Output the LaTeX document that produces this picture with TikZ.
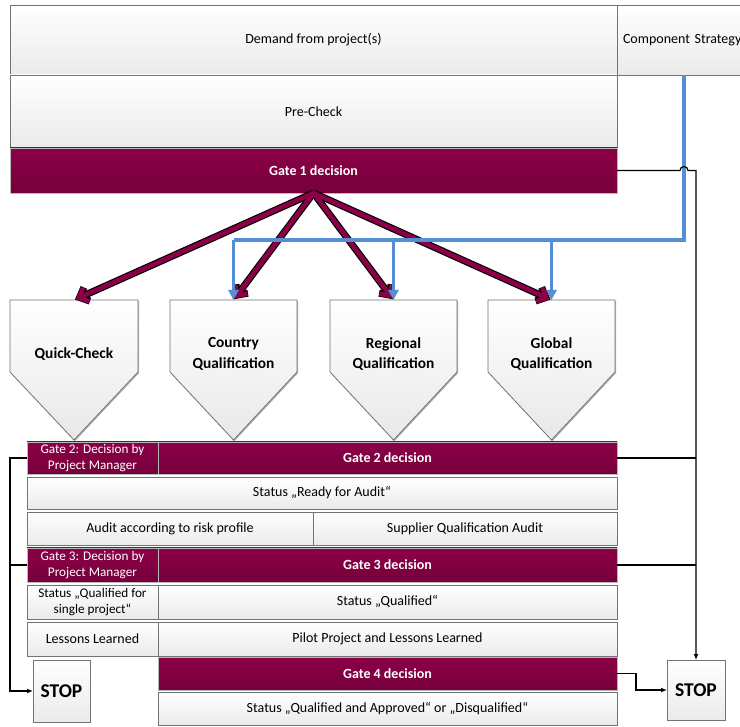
\documentclass[tikz,border=0pt]{standalone}
\usepackage{fontspec}
\setmainfont{Carlito}
\usetikzlibrary{arrows.meta,shadows,calc}
\definecolor{gateredtop}{RGB}{140,0,72}
\definecolor{gatereddark}{RGB}{118,0,58}
\definecolor{flowblue}{RGB}{85,142,213}
\definecolor{boxline}{RGB}{115,115,115}
\begin{document}
\begin{tikzpicture}[x=1pt,y=-1pt,
  shadowed/.style={drop shadow={shadow xshift=1pt,shadow yshift=-1.2pt,opacity=0.3,fill=black}},
  lightbox/.style={shadowed,draw=boxline, line width=0.8pt, top color=white, bottom color=gray!16,
     inner sep=1pt, outer sep=0pt, align=center, font=\fontsize{14}{16}\selectfont, anchor=north west},
  gatebox/.style={lightbox, draw=gray!55, top color=gateredtop, bottom color=gatereddark, text=white},
  gatetitle/.style={gatebox, font=\bfseries\fontsize{14}{16}\selectfont},
  gatesmall/.style={gatebox, font=\fontsize{13.2}{16.5}\selectfont},
  pentshape/.style={shadowed,draw=boxline, line width=0.8pt, top color=white, bottom color=gray!18},
  pentlabel/.style={align=center, font=\bfseries\fontsize{15.4}{20.5}\selectfont, inner sep=0pt},
  stopbox/.style={lightbox, font=\bfseries\fontsize{19.5}{22}\selectfont},
  conn/.style={draw=black, line width=1.2pt},
  connarrow/.style={conn, -{Latex[length=6pt,width=5pt]}},
  bluestroke/.style={draw=flowblue, line width=3.4pt},
  bluearrow/.style={bluestroke, -{Triangle[length=10pt,width=10pt]}},
  redouter/.style={draw=black, line width=7pt, -{Straight Barb[length=8pt,width=15pt]}},
  redinner/.style={draw=gateredtop, line width=4.6pt, -{Straight Barb[length=8pt,width=15pt]}}
]
\useasboundingbox (0,0) rectangle (740,727);
\fill[white] (0,0) rectangle (740,727);

% top blocks
\node[lightbox, minimum width=607pt, minimum height=70pt] (demand) at (10,5) {Demand from project(s)};
\node[lightbox, minimum width=134pt, minimum height=70pt, text width=130pt, align=left] (comp) at (617,5) {\hspace*{4pt}Component Strategy};
\node[lightbox, minimum width=607pt, minimum height=73pt] (precheck) at (10,75) {Pre-Check};
\node[gatetitle, minimum width=607pt, minimum height=45pt] (g1) at (10,148) {Gate 1 decision};

% pentagons
\draw[pentshape] (10,300) -- (138,300) -- (138,372) -- (74,440) -- (10,372) -- cycle;
\draw[pentshape] (170,300) -- (297,300) -- (297,372) -- (233.5,440) -- (170,372) -- cycle;
\draw[pentshape] (330,300) -- (457,300) -- (457,372) -- (393.5,440) -- (330,372) -- cycle;
\draw[pentshape] (488,300) -- (615,300) -- (615,372) -- (551.5,440) -- (488,372) -- cycle;
\coordinate (qctop) at (74,300);
\coordinate (cqtop) at (233.5,300);
\coordinate (rqtop) at (393.5,300);
\coordinate (gqtop) at (551.5,300);
\node[pentlabel] (qc) at (74,354) {Quick-Check};
\node[pentlabel] (cq) at (233.5,354) {Country\\Qualification};
\node[pentlabel] (rq) at (393.5,354) {Regional\\Qualification};
\node[pentlabel] (gq) at (551.5,354) {Global\\Qualification};

% maroon arrows
\foreach \t in {qctop,cqtop,rqtop,gqtop}{
  \draw[redouter, shorten >=1pt] (g1.south) -- (\t);
}
\foreach \t in {qctop,cqtop,rqtop,gqtop}{
  \draw[redinner, shorten >=2pt] (g1.south) -- (\t);
}

% blue connectors
\coordinate (bluex) at (684,0);
\coordinate (bluey) at (0,240);
\draw[bluestroke] (comp.south -| bluex) -- (bluex |- bluey) -- (cqtop |- bluey);
\draw[bluearrow] (cqtop |- bluey) -- (cqtop);
\draw[bluearrow] (rqtop |- bluey) -- (rqtop);
\draw[bluearrow] (gqtop |- bluey) -- (gqtop);

% lower rows
\node[gatesmall, minimum width=131pt, minimum height=32pt] (g2l) at (27,442) {Gate 2: Decision by\\Project Manager};
\node[gatetitle, minimum width=459pt, minimum height=32pt] (g2) at (158,442) {Gate 2 decision};
\node[lightbox, minimum width=590pt, minimum height=32pt] (ready) at (27,477) {Status „Ready for Audit“};
\node[lightbox, minimum width=286pt, minimum height=33pt] (auditl) at (27,512) {Audit according to risk profile};
\node[lightbox, minimum width=304pt, minimum height=33pt] (auditr) at (313,512) {Supplier Qualification Audit};
\node[gatesmall, minimum width=131pt, minimum height=34pt] (g3l) at (27,548) {Gate 3: Decision by\\Project Manager};
\node[gatetitle, minimum width=459pt, minimum height=34pt] (g3) at (158,548) {Gate 3 decision};
\node[lightbox, minimum width=131pt, minimum height=34pt, font=\fontsize{13.2}{16}\selectfont] (single) at (27,585) {Status „Qualified for\\single project“};
\node[lightbox, minimum width=459pt, minimum height=34pt] (qual) at (158,585) {Status „Qualified“};
\node[lightbox, minimum width=131pt, minimum height=34pt] (lessons) at (27,622) {Lessons Learned};
\node[lightbox, minimum width=459pt, minimum height=34pt] (pilot) at (158,622) {Pilot Project and Lessons Learned};
\node[gatetitle, minimum width=459pt, minimum height=33pt] (g4) at (158,657) {Gate 4 decision};
\node[lightbox, minimum width=459pt, minimum height=33pt] (final) at (158,692) {Status „Qualified and Approved“ or „Disqualified“};

\node[stopbox, minimum width=57pt, minimum height=62pt] (stopl) at (33,660) {STOP};
\node[stopbox, minimum width=58pt, minimum height=60pt] (stopr) at (667,660) {STOP};

% left rail
\coordinate (lrail) at (10,0);
\draw[connarrow] (g2l.west) -- (g2l.west -| lrail) -- (lrail |- stopl.west) -- (stopl.west);
\draw[conn] (g3l.west) -- (g3l.west -| lrail);

% right rail
\draw[connarrow] (g1.east) -- (680,170.5) arc[start angle=180, end angle=360, radius=4] -- (g1.east -| stopr.north) -- (stopr.north);
\draw[conn] (g2.east) -- (g2.east -| stopr.north);
\draw[conn] (g3.east) -- (g3.east -| stopr.north);
\draw[connarrow] (g4.east) -- ++(19,0) |- (stopr.west);
\end{tikzpicture}
\end{document}
